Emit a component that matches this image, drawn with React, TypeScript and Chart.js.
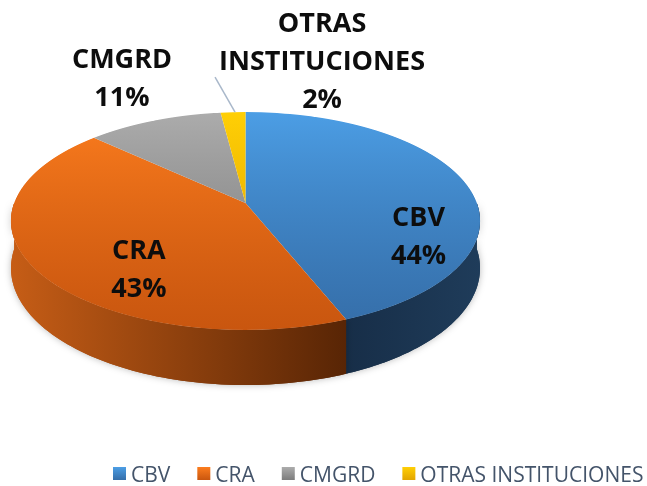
import React, { useEffect, useRef } from "react";
import { Chart, registerables } from "chart.js";

Chart.register(...registerables);

// ---- data ----
const categories = ["CBV", "CRA", "CMGRD", "OTRAS INSTITUCIONES"];
const values = [44, 43, 11, 2];
const labelNameLines = [["CBV"], ["CRA"], ["CMGRD"], ["OTRAS", "INSTITUCIONES"]];

// ---- styles ----
const topColors = [
  ["#4c9ee5", "#356ea9"],
  ["#fc7d1e", "#c9560f"],
  ["#acacac", "#7c7c7c"],
  ["#ffcf05", "#e2a500"],
];
const sideColors = [
  ["#172e48", "#1f3c5a"],
  ["#c65d16", "#582505"],
  ["#707070", "#555555"],
  ["#b38300", "#8a6400"],
];

// perspective view of the pie disc: screen = (cx + a*u/(1+c*v), y0 + b*v/(1+c*v))
const PERS = { cx: 245.5, y0: 203, a: 231.3, b: 106, c: -0.165, d0: 46 };
// label placement relative to each slice's mid angle (radius factor + shift)
const LABEL_PLACE = [
  { f: 0.78, dx: 0, dy: 48 },
  { f: 0.53, dx: 0, dy: 32 },
  { f: 1.0, dx: -32, dy: -43 },
  { f: 1.0, dx: 89, dy: -52 },
];
const LABEL_FONT = 'bold 27px "Open Sans"';
const LABEL_LH = 38;
const LABEL_CAP = 19;

function proj(u: number, v: number) {
  const k = 1 + PERS.c * v;
  return { x: PERS.cx + (PERS.a * u) / k, y: PERS.y0 + (PERS.b * v) / k };
}
function depthAt(v: number) {
  return PERS.d0 / (1 + PERS.c * v);
}
function invV(y: number) {
  const t = y - PERS.y0;
  return t / (PERS.b - PERS.c * t);
}

const pie3dPlugin = {
  id: "pie3d",
  beforeDatasetsDraw(chart: any) {
    const ctx: CanvasRenderingContext2D = chart.ctx;
    const meta = chart.getDatasetMeta(0);
    const arcs = meta.data as any[];

    // side walls (front half only)
    ctx.save();
    arcs.forEach((arc, i) => {
      const s = arc.startAngle;
      const e = arc.endAngle;
      const ranges = [
        [0, Math.PI],
        [2 * Math.PI, 3 * Math.PI],
      ];
      ranges.forEach(([r0, r1]) => {
        const a0 = Math.max(s, r0);
        const a1 = Math.min(e, r1);
        if (a1 <= a0) return;
        const steps = 80;
        const top: { x: number; y: number }[] = [];
        for (let k = 0; k <= steps; k++) {
          const ph = a0 + ((a1 - a0) * k) / steps;
          top.push(proj(Math.cos(ph), Math.sin(ph)));
        }
        const xsAll = top.map((p) => p.x);
        const xl = Math.min(...xsAll);
        const xr = Math.max(...xsAll);
        const g = ctx.createLinearGradient(xl, 0, xr, 0);
        g.addColorStop(0, sideColors[i][0]);
        g.addColorStop(1, sideColors[i][1]);
        ctx.beginPath();
        top.forEach((p, k) => (k === 0 ? ctx.moveTo(p.x, p.y) : ctx.lineTo(p.x, p.y)));
        for (let k = steps; k >= 0; k--) {
          const ph = a0 + ((a1 - a0) * k) / steps;
          const p = top[k];
          ctx.lineTo(p.x, p.y + depthAt(Math.sin(ph)));
        }
        ctx.closePath();
        ctx.shadowColor = "rgba(0,0,0,0.28)";
        ctx.shadowBlur = 7;
        ctx.fillStyle = g;
        ctx.fill();
        ctx.shadowBlur = 0;
        ctx.shadowColor = "transparent";
        ctx.fill();
      });
    });
    ctx.restore();

    // draw the library's arcs row by row through the perspective mapping
    const A = arcs[0];
    const R = A.outerRadius;
    const ax = A.x;
    const ay = A.y;
    const W = chart.width;
    const yTop = Math.floor(proj(0, -1).y) - 1;
    const yBot = Math.ceil(proj(0, 1).y) + 1;
    for (let y = yTop; y < yBot; y++) {
      const va = invV(y);
      const vb = invV(y + 1);
      const vm = (va + vb) / 2;
      const sx = PERS.a / (1 + PERS.c * vm) / R;
      const Ya = ay + R * va;
      const Yb = ay + R * vb;
      const sy = 1 / (Yb - Ya);
      ctx.save();
      ctx.beginPath();
      ctx.rect(0, y, W, 1);
      ctx.clip();
      ctx.setTransform(sx, 0, 0, sy, PERS.cx - sx * ax, y - sy * Ya);
      arcs.forEach((a) => a.draw(ctx));
      ctx.restore();
    }
    return false;
  },
  afterDraw(chart: any) {
    const ctx: CanvasRenderingContext2D = chart.ctx;
    const meta = chart.getDatasetMeta(0);
    const arcs = meta.data as any[];
    const total = values.reduce((a, b) => a + b, 0);

    ctx.save();
    // leader line for the small slice
    {
      const arc = arcs[3];
      const mid = (arc.startAngle + arc.endAngle) / 2;
      const p = proj(Math.cos(mid), Math.sin(mid));
      ctx.strokeStyle = "#a9b8ca";
      ctx.lineWidth = 1.5;
      ctx.beginPath();
      ctx.moveTo(p.x + 2, p.y);
      ctx.lineTo(p.x - 18, p.y - 35);
      ctx.stroke();
    }

    ctx.font = LABEL_FONT;
    ctx.fillStyle = "#0d0d0d";
    ctx.textAlign = "center";
    ctx.textBaseline = "alphabetic";
    arcs.forEach((arc, i) => {
      const mid = (arc.startAngle + arc.endAngle) / 2;
      const pl = LABEL_PLACE[i];
      const p = proj(pl.f * Math.cos(mid), pl.f * Math.sin(mid));
      const lines = [...labelNameLines[i], Math.round((values[i] / total) * 100) + "%"];
      const n = lines.length;
      lines.forEach((t, k) => {
        const y = p.y + pl.dy + (k - (n - 1) / 2) * LABEL_LH + LABEL_CAP / 2;
        ctx.fillText(t, p.x + pl.dx, y);
      });
    });

    // legend
    ctx.font = '21px "Open Sans"';
    ctx.textAlign = "left";
    let x = 113;
    const by = 467;
    const box = 13;
    categories.forEach((c, i) => {
      const g = ctx.createLinearGradient(0, by, 0, by + box);
      g.addColorStop(0, topColors[i][0]);
      g.addColorStop(1, topColors[i][1]);
      ctx.fillStyle = g;
      ctx.fillRect(x, by, box, box);
      const tx = x + box + 5;
      ctx.fillStyle = "#44546a";
      ctx.fillText(c, tx, 482);
      x = tx + ctx.measureText(c).width + 27;
    });
    ctx.restore();
  },
};

export default function App() {
  const ref = useRef<HTMLCanvasElement | null>(null);
  useEffect(() => {
    if (!ref.current) return;
    const chart = new Chart(ref.current, {
      type: "pie",
      data: {
        labels: categories,
        datasets: [
          {
            data: values,
            borderWidth: 0,
            backgroundColor: (c: any) => {
              const i = c.dataIndex ?? 0;
              const area = c.chart.chartArea;
              if (!area) return topColors[i][0];
              const g = c.chart.ctx.createLinearGradient(0, area.top, 0, area.bottom);
              g.addColorStop(0, topColors[i][0]);
              g.addColorStop(1, topColors[i][1]);
              return g;
            },
          },
        ],
      },
      options: {
        responsive: false,
        animation: false,
        devicePixelRatio: 1,
        layout: { padding: 0 },
        plugins: {
          legend: { display: false },
          tooltip: { enabled: false },
        },
        events: [],
      },
      plugins: [pie3dPlugin],
    });
    return () => chart.destroy();
  }, []);
  return (
    <div style={{ position: "fixed", left: 0, top: 0, width: 647, height: 486, background: "#fff" }}>
      <canvas ref={ref} width={647} height={486} />
    </div>
  );
}
